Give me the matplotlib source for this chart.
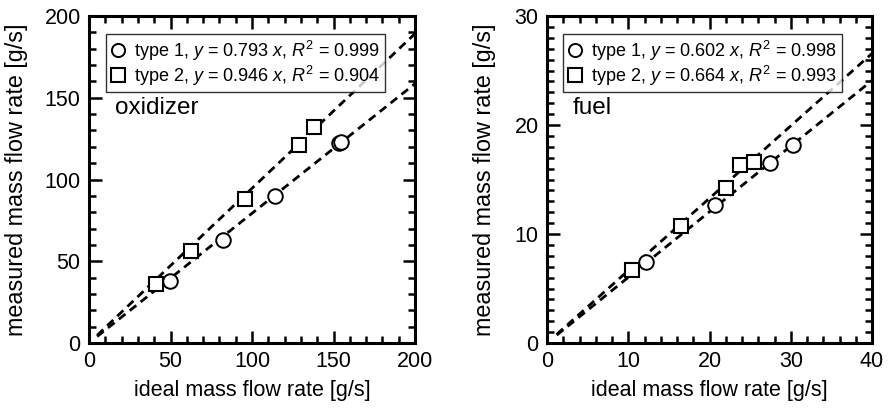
import numpy as np
import matplotlib.pyplot as plt
from matplotlib.ticker import MultipleLocator

plt.rcParams['font.family'] = ['Liberation Sans', 'DejaVu Sans']
plt.rcParams['mathtext.fontset'] = 'custom'
plt.rcParams['mathtext.rm'] = 'Liberation Sans'
plt.rcParams['mathtext.it'] = 'Liberation Sans:italic'

# oxidizer data
ox_ideal_1 = [49.6, 82.5, 114.3, 153.2, 154.7]
ox_meas_1 = [37.9, 63.1, 90.2, 122.2, 123.0]
ox_ideal_2 = [41.0, 62.4, 95.4, 129.0, 137.8]
ox_meas_2 = [36.3, 56.2, 87.8, 121.4, 132.0]
ox_slope = [0.793, 0.946]
ox_r2 = [0.999, 0.904]

# fuel data
fu_ideal_1 = [12.2, 20.7, 27.5, 30.3]
fu_meas_1 = [7.45, 12.7, 16.5, 18.2]
fu_ideal_2 = [10.4, 16.5, 22.0, 23.75, 25.5]
fu_meas_2 = [6.7, 10.7, 14.2, 16.3, 16.6]
fu_slope = [0.602, 0.664]
fu_r2 = [0.998, 0.993]

fig = plt.figure(figsize=(8.88, 4.08), dpi=100)
W, H = 888, 408
ax1 = fig.add_axes([89 / W, 1 - 343 / H, 326 / W, 327 / H])
ax2 = fig.add_axes([547 / W, 1 - 343 / H, 325 / W, 327 / H])


def panel(ax, x1, y1, x2, y2, slopes, r2s, xmax, ymax, xmaj, xmin_, ymaj, ymin_, x0, name, legx, ylx):
    for s in slopes:
        xx = np.array([x0, xmax])
        ax.plot(xx, s * xx, color='black', lw=2, ls=(0, (3, 2)), zorder=2)
    h1, = ax.plot(x1, y1, 'o', ms=10.5, mfc='white', mec='black', mew=1.4, zorder=3,
                  label='type 1, $y$ = %.3f $x$, $R^{\\mathregular{2}}$ = %.3f' % (slopes[0], r2s[0]))
    h2, = ax.plot(x2, y2, 's', ms=10.5, mfc='white', mec='black', mew=1.5, zorder=3,
                  label='type 2, $y$ = %.3f $x$, $R^{\\mathregular{2}}$ = %.3f' % (slopes[1], r2s[1]))
    ax.set_xlim(0, xmax)
    ax.set_ylim(0, ymax)
    ax.xaxis.set_major_locator(MultipleLocator(xmaj))
    ax.xaxis.set_minor_locator(MultipleLocator(xmin_))
    ax.yaxis.set_major_locator(MultipleLocator(ymaj))
    ax.yaxis.set_minor_locator(MultipleLocator(ymin_))
    ax.tick_params(which='both', direction='in', top=True, right=True, width=1.8, labelsize=15.5, pad=6)
    ax.tick_params(which='major', length=9)
    ax.tick_params(which='minor', length=5)
    for sp in ax.spines.values():
        sp.set_linewidth(2.2)
    ax.set_xlabel('ideal mass flow rate [g/s]', fontsize=15.5)
    ax.set_ylabel('measured mass flow rate [g/s]', fontsize=16.8)
    ax.xaxis.set_label_coords(0.5, -0.113)
    ax.yaxis.set_label_coords(ylx, 0.5)
    leg = ax.legend(handles=[h1, h2], loc='upper left', bbox_to_anchor=(legx, 0.945),
                    fontsize=13, frameon=True, fancybox=False, edgecolor='black',
                    handlelength=0.8, handletextpad=0.5, borderpad=0.25, labelspacing=0.05,
                    borderaxespad=0, markerscale=0.9)
    leg.get_frame().set_linewidth(1)
    ax.text(0.08, 0.72, name, transform=ax.transAxes, fontsize=17.5, va='center', ha='left')


panel(ax1, ox_ideal_1, ox_meas_1, ox_ideal_2, ox_meas_2, ox_slope, ox_r2,
      200, 200, 50, 10, 50, 10, 5, 'oxidizer', 0.052, -0.187)
panel(ax2, fu_ideal_1, fu_meas_1, fu_ideal_2, fu_meas_2, fu_slope, fu_r2,
      40, 30, 10, 2, 10, 1, 1.2, 'fuel', 0.05, -0.157)

fig.savefig('out.png', dpi=100)
